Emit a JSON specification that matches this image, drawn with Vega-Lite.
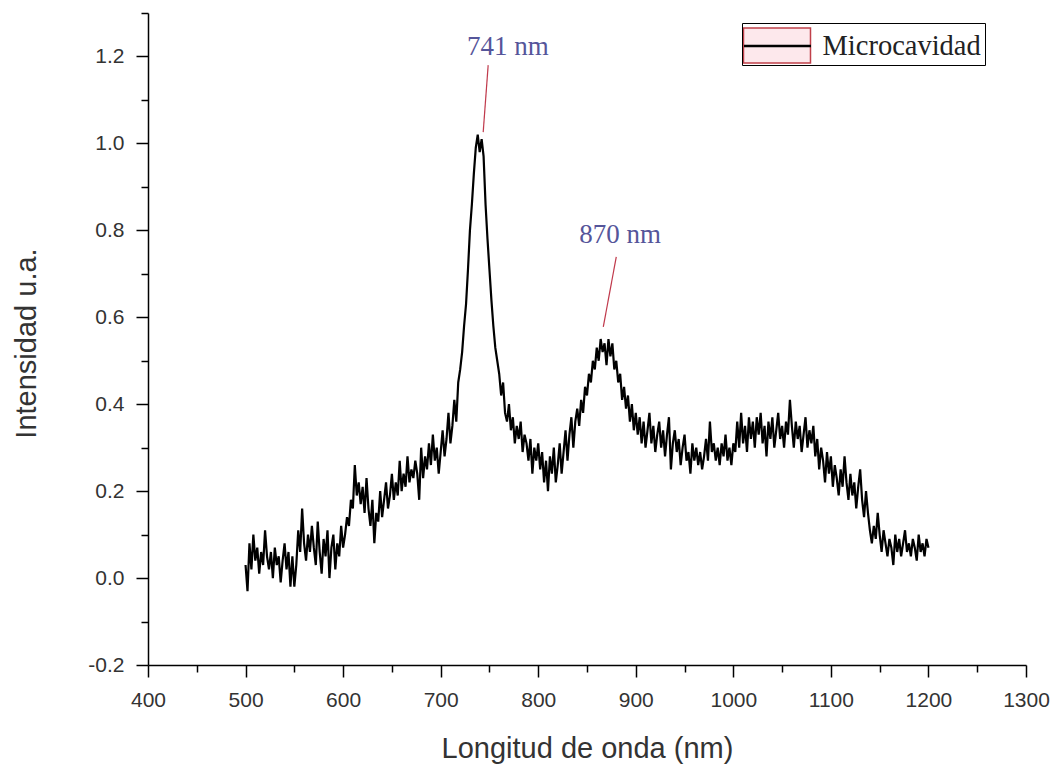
{
  "$schema": "https://vega.github.io/schema/vega-lite/v6.json",
  "width": 878,
  "height": 652,
  "autosize": {"type": "none"},
  "padding": {"left": 148, "top": 13, "right": 29, "bottom": 102},
  "background": "white",
  "config": {"view": {"stroke": null}},
  "datasets": {
    "spec": [
      {"nm":500,"i":0.03},{"nm":502,"i":-0.03},{"nm":504,"i":0.08},{"nm":506,"i":0.02},{"nm":508,"i":0.10},{"nm":510,"i":0.04},{"nm":512,"i":0.07},{"nm":514,"i":0.01},{"nm":516,"i":0.06},{"nm":518,"i":0.03},
      {"nm":520,"i":0.11},{"nm":522,"i":0.05},{"nm":524,"i":0.02},{"nm":526,"i":0.06},{"nm":528,"i":0.00},{"nm":530,"i":0.07},{"nm":532,"i":0.03},{"nm":534,"i":0.05},{"nm":536,"i":-0.01},{"nm":538,"i":0.04},
      {"nm":540,"i":0.08},{"nm":542,"i":0.02},{"nm":544,"i":0.06},{"nm":546,"i":-0.02},{"nm":548,"i":0.05},{"nm":550,"i":-0.02},{"nm":552,"i":0.03},{"nm":554,"i":0.11},{"nm":556,"i":0.06},{"nm":558,"i":0.16},
      {"nm":560,"i":0.08},{"nm":562,"i":0.04},{"nm":564,"i":0.10},{"nm":566,"i":0.06},{"nm":568,"i":0.12},{"nm":570,"i":0.07},{"nm":572,"i":0.03},{"nm":574,"i":0.13},{"nm":576,"i":0.06},{"nm":578,"i":0.01},
      {"nm":580,"i":0.09},{"nm":582,"i":0.05},{"nm":584,"i":0.11},{"nm":586,"i":0.00},{"nm":588,"i":0.07},{"nm":590,"i":0.10},{"nm":592,"i":0.02},{"nm":594,"i":0.08},{"nm":596,"i":0.05},{"nm":598,"i":0.12},
      {"nm":600,"i":0.07},{"nm":602,"i":0.10},{"nm":604,"i":0.14},{"nm":606,"i":0.12},{"nm":608,"i":0.18},{"nm":610,"i":0.16},{"nm":612,"i":0.26},{"nm":614,"i":0.19},{"nm":616,"i":0.22},{"nm":618,"i":0.17},
      {"nm":620,"i":0.21},{"nm":622,"i":0.15},{"nm":624,"i":0.23},{"nm":626,"i":0.16},{"nm":628,"i":0.12},{"nm":630,"i":0.18},{"nm":632,"i":0.08},{"nm":634,"i":0.15},{"nm":636,"i":0.13},{"nm":638,"i":0.20},
      {"nm":640,"i":0.14},{"nm":642,"i":0.18},{"nm":644,"i":0.22},{"nm":646,"i":0.16},{"nm":648,"i":0.19},{"nm":650,"i":0.24},{"nm":652,"i":0.18},{"nm":654,"i":0.22},{"nm":656,"i":0.19},{"nm":658,"i":0.27},
      {"nm":660,"i":0.20},{"nm":662,"i":0.24},{"nm":664,"i":0.21},{"nm":666,"i":0.28},{"nm":668,"i":0.22},{"nm":670,"i":0.25},{"nm":672,"i":0.23},{"nm":674,"i":0.27},{"nm":676,"i":0.24},{"nm":678,"i":0.18},
      {"nm":680,"i":0.30},{"nm":682,"i":0.23},{"nm":684,"i":0.28},{"nm":686,"i":0.25},{"nm":688,"i":0.31},{"nm":690,"i":0.26},{"nm":692,"i":0.33},{"nm":694,"i":0.27},{"nm":696,"i":0.30},{"nm":698,"i":0.24},
      {"nm":700,"i":0.29},{"nm":702,"i":0.34},{"nm":704,"i":0.28},{"nm":706,"i":0.32},{"nm":708,"i":0.38},{"nm":710,"i":0.31},{"nm":712,"i":0.35},{"nm":714,"i":0.41},{"nm":716,"i":0.36},{"nm":718,"i":0.45},
      {"nm":720,"i":0.48},{"nm":722,"i":0.52},{"nm":724,"i":0.58},{"nm":726,"i":0.63},{"nm":728,"i":0.71},{"nm":730,"i":0.80},{"nm":732,"i":0.86},{"nm":734,"i":0.93},{"nm":736,"i":0.99},{"nm":738,"i":1.02},
      {"nm":740,"i":0.98},{"nm":742,"i":1.01},{"nm":744,"i":0.97},{"nm":746,"i":0.86},{"nm":748,"i":0.78},{"nm":750,"i":0.71},{"nm":752,"i":0.64},{"nm":754,"i":0.58},{"nm":756,"i":0.53},{"nm":758,"i":0.50},
      {"nm":760,"i":0.47},{"nm":762,"i":0.42},{"nm":764,"i":0.45},{"nm":766,"i":0.38},{"nm":768,"i":0.36},{"nm":770,"i":0.40},{"nm":772,"i":0.34},{"nm":774,"i":0.37},{"nm":776,"i":0.31},{"nm":778,"i":0.35},
      {"nm":780,"i":0.32},{"nm":782,"i":0.36},{"nm":784,"i":0.29},{"nm":786,"i":0.33},{"nm":788,"i":0.31},{"nm":790,"i":0.27},{"nm":792,"i":0.32},{"nm":794,"i":0.24},{"nm":796,"i":0.30},{"nm":798,"i":0.27},
      {"nm":800,"i":0.31},{"nm":802,"i":0.25},{"nm":804,"i":0.29},{"nm":806,"i":0.22},{"nm":808,"i":0.27},{"nm":810,"i":0.20},{"nm":812,"i":0.28},{"nm":814,"i":0.24},{"nm":816,"i":0.30},{"nm":818,"i":0.22},
      {"nm":820,"i":0.26},{"nm":822,"i":0.31},{"nm":824,"i":0.24},{"nm":826,"i":0.29},{"nm":828,"i":0.34},{"nm":830,"i":0.27},{"nm":832,"i":0.33},{"nm":834,"i":0.37},{"nm":836,"i":0.30},{"nm":838,"i":0.36},
      {"nm":840,"i":0.39},{"nm":842,"i":0.35},{"nm":844,"i":0.41},{"nm":846,"i":0.38},{"nm":848,"i":0.44},{"nm":850,"i":0.42},{"nm":852,"i":0.47},{"nm":854,"i":0.45},{"nm":856,"i":0.50},{"nm":858,"i":0.48},
      {"nm":860,"i":0.53},{"nm":862,"i":0.50},{"nm":864,"i":0.55},{"nm":866,"i":0.52},{"nm":868,"i":0.54},{"nm":870,"i":0.49},{"nm":872,"i":0.55},{"nm":874,"i":0.51},{"nm":876,"i":0.54},{"nm":878,"i":0.48},
      {"nm":880,"i":0.50},{"nm":882,"i":0.45},{"nm":884,"i":0.47},{"nm":886,"i":0.41},{"nm":888,"i":0.44},{"nm":890,"i":0.39},{"nm":892,"i":0.42},{"nm":894,"i":0.36},{"nm":896,"i":0.40},{"nm":898,"i":0.34},
      {"nm":900,"i":0.38},{"nm":902,"i":0.33},{"nm":904,"i":0.37},{"nm":906,"i":0.31},{"nm":908,"i":0.36},{"nm":910,"i":0.30},{"nm":912,"i":0.34},{"nm":914,"i":0.38},{"nm":916,"i":0.31},{"nm":918,"i":0.35},
      {"nm":920,"i":0.29},{"nm":922,"i":0.33},{"nm":924,"i":0.36},{"nm":926,"i":0.30},{"nm":928,"i":0.34},{"nm":930,"i":0.28},{"nm":932,"i":0.33},{"nm":934,"i":0.37},{"nm":936,"i":0.25},{"nm":938,"i":0.31},
      {"nm":940,"i":0.34},{"nm":942,"i":0.29},{"nm":944,"i":0.32},{"nm":946,"i":0.26},{"nm":948,"i":0.30},{"nm":950,"i":0.33},{"nm":952,"i":0.27},{"nm":954,"i":0.29},{"nm":956,"i":0.24},{"nm":958,"i":0.31},
      {"nm":960,"i":0.27},{"nm":962,"i":0.30},{"nm":964,"i":0.26},{"nm":966,"i":0.29},{"nm":968,"i":0.25},{"nm":970,"i":0.28},{"nm":972,"i":0.32},{"nm":974,"i":0.27},{"nm":976,"i":0.36},{"nm":978,"i":0.29},
      {"nm":980,"i":0.31},{"nm":982,"i":0.27},{"nm":984,"i":0.30},{"nm":986,"i":0.26},{"nm":988,"i":0.31},{"nm":990,"i":0.28},{"nm":992,"i":0.33},{"nm":994,"i":0.27},{"nm":996,"i":0.30},{"nm":998,"i":0.26},
      {"nm":1000,"i":0.31},{"nm":1002,"i":0.29},{"nm":1004,"i":0.36},{"nm":1006,"i":0.30},{"nm":1008,"i":0.38},{"nm":1010,"i":0.31},{"nm":1012,"i":0.35},{"nm":1014,"i":0.29},{"nm":1016,"i":0.37},{"nm":1018,"i":0.32},
      {"nm":1020,"i":0.36},{"nm":1022,"i":0.30},{"nm":1024,"i":0.37},{"nm":1026,"i":0.33},{"nm":1028,"i":0.38},{"nm":1030,"i":0.31},{"nm":1032,"i":0.35},{"nm":1034,"i":0.28},{"nm":1036,"i":0.36},{"nm":1038,"i":0.32},
      {"nm":1040,"i":0.37},{"nm":1042,"i":0.30},{"nm":1044,"i":0.34},{"nm":1046,"i":0.38},{"nm":1048,"i":0.32},{"nm":1050,"i":0.35},{"nm":1052,"i":0.30},{"nm":1054,"i":0.36},{"nm":1056,"i":0.33},{"nm":1058,"i":0.41},
      {"nm":1060,"i":0.35},{"nm":1062,"i":0.30},{"nm":1064,"i":0.36},{"nm":1066,"i":0.32},{"nm":1068,"i":0.35},{"nm":1070,"i":0.29},{"nm":1072,"i":0.33},{"nm":1074,"i":0.37},{"nm":1076,"i":0.30},{"nm":1078,"i":0.34},
      {"nm":1080,"i":0.31},{"nm":1082,"i":0.35},{"nm":1084,"i":0.28},{"nm":1086,"i":0.32},{"nm":1088,"i":0.25},{"nm":1090,"i":0.30},{"nm":1092,"i":0.27},{"nm":1094,"i":0.22},{"nm":1096,"i":0.29},{"nm":1098,"i":0.24},
      {"nm":1100,"i":0.28},{"nm":1102,"i":0.21},{"nm":1104,"i":0.26},{"nm":1106,"i":0.23},{"nm":1108,"i":0.19},{"nm":1110,"i":0.25},{"nm":1112,"i":0.21},{"nm":1114,"i":0.28},{"nm":1116,"i":0.22},{"nm":1118,"i":0.18},
      {"nm":1120,"i":0.24},{"nm":1122,"i":0.19},{"nm":1124,"i":0.22},{"nm":1126,"i":0.16},{"nm":1128,"i":0.21},{"nm":1130,"i":0.25},{"nm":1132,"i":0.18},{"nm":1134,"i":0.14},{"nm":1136,"i":0.20},{"nm":1138,"i":0.15},
      {"nm":1140,"i":0.11},{"nm":1142,"i":0.08},{"nm":1144,"i":0.12},{"nm":1146,"i":0.09},{"nm":1148,"i":0.15},{"nm":1150,"i":0.10},{"nm":1152,"i":0.06},{"nm":1154,"i":0.11},{"nm":1156,"i":0.08},{"nm":1158,"i":0.05},
      {"nm":1160,"i":0.09},{"nm":1162,"i":0.07},{"nm":1164,"i":0.03},{"nm":1166,"i":0.10},{"nm":1168,"i":0.06},{"nm":1170,"i":0.09},{"nm":1172,"i":0.05},{"nm":1174,"i":0.08},{"nm":1176,"i":0.11},{"nm":1178,"i":0.06},
      {"nm":1180,"i":0.08},{"nm":1182,"i":0.05},{"nm":1184,"i":0.09},{"nm":1186,"i":0.07},{"nm":1188,"i":0.04},{"nm":1190,"i":0.10},{"nm":1192,"i":0.06},{"nm":1194,"i":0.08},{"nm":1196,"i":0.05},{"nm":1198,"i":0.09},
      {"nm":1200,"i":0.07}
    ],
    "ann": [
      {"nm": 769, "i": 1.203, "t": "741 nm"},
      {"nm": 884, "i": 0.771, "t": "870 nm"}
    ],
    "lead": [
      {"nm": 748.7, "i": 1.18, "nm2": 743.6, "i2": 1.026},
      {"nm": 880, "i": 0.739, "nm2": 866.7, "i2": 0.578}
    ]
  },
  "layer": [
    {
      "data": {"name": "spec"},
      "mark": {"type": "line", "strokeWidth": 2.2, "interpolate": "linear"},
      "encoding": {
        "x": {
          "field": "nm", "type": "quantitative",
          "scale": {"domain": [400, 1300], "nice": false, "zero": false},
          "axis": {
            "title": "Longitud de onda (nm)",
            "values": [400,450,500,550,600,650,700,750,800,850,900,950,1000,1050,1100,1150,1200,1250,1300],
            "format": "d",
            "labelExpr": "datum.value % 100 === 0 ? datum.label : ''",
            "tickSize": {"condition": {"test": "datum.value % 100 === 0", "value": 12}, "value": 7},
            "labelPadding": 12,
            "labelFont": "Liberation Sans", "labelFontSize": 21, "labelColor": "#333333",
            "labelOverlap": false, "labelFlush": false,
            "domainColor": "#000000", "domainWidth": 1.5, "tickColor": "#000000", "tickWidth": 1.5,
            "grid": false,
            "titleFont": "Liberation Sans", "titleFontSize": 29, "titleFontWeight": "normal", "titleColor": "#333333",
            "titleBaseline": "alphabetic", "titleY": 92
          }
        },
        "y": {
          "field": "i", "type": "quantitative",
          "scale": {"domain": [-0.2, 1.3], "nice": false, "zero": false},
          "axis": {
            "title": "Intensidad u.a.",
            "values": [-0.2,-0.1,0,0.1,0.2,0.3,0.4,0.5,0.6,0.7,0.8,0.9,1.0,1.1,1.2,1.3],
            "format": ".1f",
            "labelExpr": "round(datum.value * 10) % 2 === 0 ? replace(datum.label, '\u2212', '-') : ''",
            "tickSize": {"condition": {"test": "round(datum.value * 10) % 2 === 0", "value": 12}, "value": 7},
            "labelPadding": 12,
            "labelFont": "Liberation Sans", "labelFontSize": 21, "labelColor": "#333333",
            "labelOverlap": false, "labelFlush": false,
            "domainColor": "#000000", "domainWidth": 1.5, "tickColor": "#000000", "tickWidth": 1.5,
            "grid": false,
            "titleFont": "Liberation Sans", "titleFontSize": 29, "titleFontWeight": "normal", "titleColor": "#333333",
            "titleBaseline": "alphabetic", "titleAngle": -90, "titleX": -113, "titleY": 330, "titleAlign": "center"
          }
        },
        "color": {
          "datum": "Microcavidad",
          "scale": {"range": ["#000000"]},
          "legend": {
            "title": null,
            "orient": "none", "legendX": 594, "legendY": 10,
            "padding": 4,
            "symbolType": "M-1.914,0H1.914",
            "symbolSize": 1225,
            "symbolStrokeWidth": 2.5,
            "symbolStrokeColor": "#222222",
            "symbolOffset": 12.5,
            "labelOffset": 26,
            "labelFont": "Liberation Serif", "labelFontSize": 28.5, "labelColor": "#222222",
            "strokeColor": "#000000",
            "zindex": 2
          }
        }
      }
    },
    {
      "data": {"name": "lead"},
      "mark": {"type": "rule", "color": "#c0394b", "strokeWidth": 1.2},
      "encoding": {
        "x": {"field": "nm", "type": "quantitative"},
        "y": {"field": "i", "type": "quantitative"},
        "x2": {"field": "nm2"},
        "y2": {"field": "i2"}
      }
    },
    {
      "data": {"name": "ann"},
      "mark": {"type": "text", "font": "Liberation Serif", "fontSize": 27, "color": "#55559a", "align": "center", "baseline": "alphabetic"},
      "encoding": {
        "x": {"field": "nm", "type": "quantitative"},
        "y": {"field": "i", "type": "quantitative"},
        "text": {"field": "t"}
      }
    },
    {
      "data": {"name": "ann"},
      "mark": {"type": "point", "filled": true, "opacity": 0, "size": 0},
      "encoding": {
        "x": {"field": "nm", "type": "quantitative"},
        "y": {"field": "i", "type": "quantitative"},
        "fill": {
          "datum": " ",
          "scale": {"range": ["#fde8ec"]},
          "legend": {
            "title": null,
            "orient": "none", "legendX": 594, "legendY": 10,
            "padding": 4,
            "symbolType": "M-1.914,-1H1.914V1H-1.914Z",
            "symbolSize": 1225,
            "symbolStrokeColor": "#c0404a",
            "symbolFillColor": "#fde8ec",
            "symbolOpacity": 1,
            "symbolOffset": 12.5,
            "labelOffset": 26,
            "labelFont": "Liberation Serif", "labelFontSize": 28.5,
            "labelExpr": "''",
            "zindex": 1
          }
        }
      }
    }
  ]
}
